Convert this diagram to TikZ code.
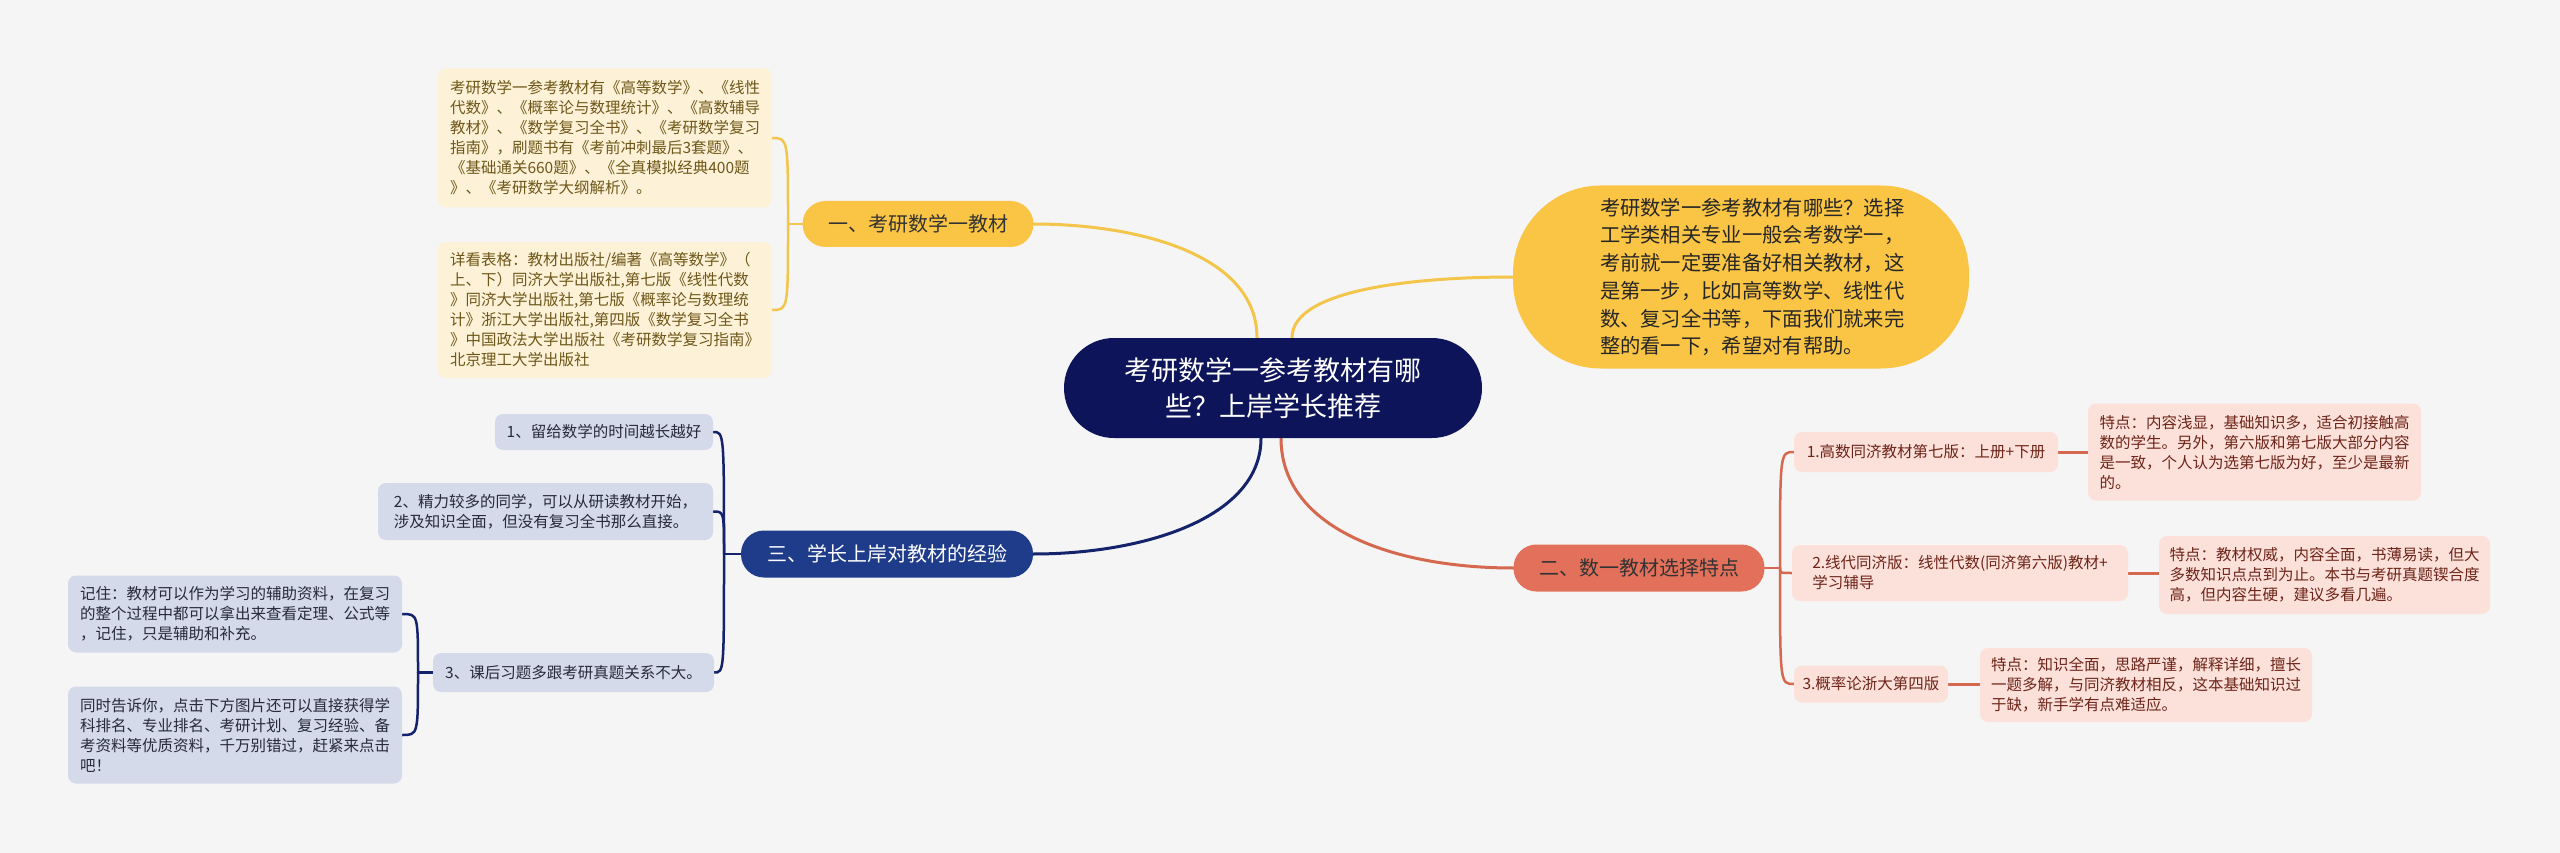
\documentclass[tikz,border=0pt]{standalone}
\usepackage{fontspec}
\setmainfont{Noto Sans CJK SC}
\usetikzlibrary{calc}
\pgfdeclarelayer{background}
\pgfsetlayers{background,main}
\definecolor{bgc}{HTML}{F5F5F5}
\definecolor{navyc}{HTML}{0D1459}
\definecolor{yelc}{HTML}{FAC545}
\definecolor{yelline}{HTML}{F3C54A}
\definecolor{yelbox}{HTML}{FDF2D8}
\definecolor{yeltext}{HTML}{6E5719}
\definecolor{bluc}{HTML}{1F3C8B}
\definecolor{bluline}{HTML}{14236B}
\definecolor{blubox}{HTML}{D4DAEA}
\definecolor{blutext}{HTML}{262A3A}
\definecolor{redc}{HTML}{E2705A}
\definecolor{redline}{HTML}{D4694F}
\definecolor{redbox}{HTML}{FBE1DA}
\definecolor{redtext}{HTML}{6E2418}
\tikzset{
  leaf/.style={rectangle, rounded corners=8pt, inner sep=0pt, align=left,
    font=\fontsize{15.5pt}{20pt}\selectfont},
  yleaf/.style={leaf, fill=yelbox, text=yeltext},
  bleaf/.style={leaf, fill=blubox, text=blutext},
  rleaf/.style={leaf, fill=redbox, text=redtext},
  mainbr/.style={rectangle, rounded corners=23pt, inner sep=0pt,
    font=\fontsize{20pt}{24pt}\selectfont},
  conn/.style={line width=3pt, line cap=round},
  subconn/.style={line width=2.5pt, line cap=round},
}
\begin{document}
\begin{tikzpicture}[x=1pt,y=-1pt]
\useasboundingbox (0,0) rectangle (2560,853);
% central
\node[rectangle, rounded corners=50pt, fill=navyc, text=white, inner sep=0pt,
  minimum width=418pt, minimum height=100pt, align=center,
  font=\fontsize{27pt}{36pt}\selectfont] (c) at (1273,388)
  {考研数学一参考教材有哪\\些？上岸学长推荐};
% description
\node[rectangle, rounded corners=88pt, fill=yelc, text=black!85, inner sep=0pt,
  minimum width=456pt, minimum height=183pt,
  font=\fontsize{20.3pt}{27.7pt}\selectfont] (d) at (1741,277)
  {\hspace*{30pt}\parbox[c]{312pt}{\raggedright 考研数学一参考教材有哪些？选择\\工学类相关专业一般会考数学一，\\考前就一定要准备好相关教材，这\\是第一步，比如高等数学、线性代\\数、复习全书等，下面我们就来完\\整的看一下，希望对有帮助。}};
% main branches
\node[mainbr, fill=yelc, text=black!80, minimum width=231pt, minimum height=46pt] (b1) at (918,224) {一、考研数学一教材};
\node[mainbr, fill=redc, text=black!80, minimum width=251pt, minimum height=47pt] (b2) at (1639,568) {二、数一教材选择特点};
\node[mainbr, fill=bluc, text=white, minimum width=292pt, minimum height=47pt] (b3) at (887,554) {三、学长上岸对教材的经验};
% branch 1 leaves
\node[yleaf, minimum width=334pt, minimum height=139pt] (A) at (605,138)
  {考研数学一参考教材有《高等数学》、《线性\\代数》、《概率论与数理统计》、《高数辅导\\教材》、《数学复习全书》、《考研数学复习\\指南》，刷题书有《考前冲刺最后3套题》、\\《基础通关660题》、《全真模拟经典400题\\》、《考研数学大纲解析》。};
\node[yleaf, minimum width=334pt, minimum height=136pt] (B) at (605,310)
  {详看表格：教材出版社/编著《高等数学》（\\上、下）同济大学出版社,第七版《线性代数\\》同济大学出版社,第七版《概率论与数理统\\计》浙江大学出版社,第四版《数学复习全书\\》中国政法大学出版社《考研数学复习指南》\\北京理工大学出版社};
% branch 3 leaves
\node[bleaf, minimum width=218pt, minimum height=36pt] (s1) at (604,432) {1、留给数学的时间越长越好};
\node[bleaf, minimum width=335pt, minimum height=57pt] (s2) at (545.5,511.5)
  {2、精力较多的同学，可以从研读教材开始，\\涉及知识全面，但没有复习全书那么直接。};
\node[bleaf, minimum width=281pt, minimum height=39pt] (s3) at (573.5,672.5) {3、课后习题多跟考研真题关系不大。};
\node[bleaf, minimum width=334pt, minimum height=77pt] (s3a) at (235,614)
  {记住：教材可以作为学习的辅助资料，在复习\\的整个过程中都可以拿出来查看定理、公式等\\，记住，只是辅助和补充。};
\node[bleaf, minimum width=334pt, minimum height=97pt] (s3b) at (235,735)
  {同时告诉你，点击下方图片还可以直接获得学\\科排名、专业排名、考研计划、复习经验、备\\考资料等优质资料，千万别错过，赶紧来点击\\吧！};
% branch 2 leaves
\node[rleaf, minimum width=264pt, minimum height=40pt] (r1) at (1926,452) {1.高数同济教材第七版：上册+下册};
\node[rleaf, minimum width=333pt, minimum height=97pt] (r1d) at (2254.5,452)
  {特点：内容浅显，基础知识多，适合初接触高\\数的学生。另外，第六版和第七版大部分内容\\是一致，个人认为选第七版为好，至少是最新\\的。};
\node[rleaf, minimum width=336pt, minimum height=56pt] (r2) at (1960,573)
  {2.线代同济版：线性代数(同济第六版)教材+\\学习辅导};
\node[rleaf, minimum width=331pt, minimum height=78pt] (r2d) at (2324.5,575)
  {特点：教材权威，内容全面，书薄易读，但大\\多数知识点点到为止。本书与考研真题锲合度\\高，但内容生硬，建议多看几遍。};
\node[rleaf, minimum width=154pt, minimum height=37pt] (r3) at (1871,684) {3.概率论浙大第四版};
\node[rleaf, minimum width=332pt, minimum height=74pt] (r3d) at (2146,685)
  {特点：知识全面，思路严谨，解释详细，擅长\\一题多解，与同济教材相反，这本基础知识过\\于缺，新手学有点难适应。};
% junctions
\coordinate (j1) at (788,224);
\coordinate (j3) at (724,554);
\coordinate (j33) at (418,672.5);
\coordinate (j2) at (1780,568);
\begin{pgfonlayer}{background}
\fill[bgc] (0,0) rectangle (2560,853);
% main connectors
\draw[conn, yelline] ([xshift=-16pt]c.north) .. controls +(0,-85) and +(100,0) .. (b1.east);
\draw[conn, yelline] ([xshift=19pt]c.north) .. controls +(0,-50) and +(-90,0) .. (d.west);
\draw[conn, bluline] ([xshift=-12pt]c.south) .. controls +(0,80) and +(110,0) .. (b3.east);
\draw[conn, redline] ([xshift=8pt]c.south) .. controls +(0,90) and +(-120,0) .. (b2.west);
% branch 1
\draw[subconn, yelline] (b1.west) -- (j1);
\draw[subconn, yelline] (j1) .. controls (788,138) .. (A.east);
\draw[subconn, yelline] (j1) .. controls (788,310) .. (B.east);
% branch 3
\draw[subconn, bluline] (b3.west) -- (j3);
\draw[subconn, bluline] (j3) .. controls (724,432) .. (s1.east);
\draw[subconn, bluline] (j3) .. controls (724,511.5) .. (s2.east);
\draw[subconn, bluline] (j3) .. controls (724,672.5) .. (s3.east);
\draw[subconn, bluline] (s3.west) -- (j33);
\draw[subconn, bluline] (j33) .. controls (418,614) .. (s3a.east);
\draw[subconn, bluline] (j33) .. controls (418,735) .. (s3b.east);
% branch 2
\draw[subconn, redline] (b2.east) -- (j2);
\draw[subconn, redline] (j2) .. controls (1780,452) .. (r1.west);
\draw[subconn, redline] (j2) .. controls (1780,573) .. (r2.west);
\draw[subconn, redline] (j2) .. controls (1780,684) .. (r3.west);
\draw[conn, redline] (r1.east) -- (r1.east -| r1d.west);
\draw[conn, redline] (r2.east) -- (r2.east -| r2d.west);
\draw[conn, redline] (r3.east) -- (r3.east -| r3d.west);
\end{pgfonlayer}
\end{tikzpicture}
\end{document}
